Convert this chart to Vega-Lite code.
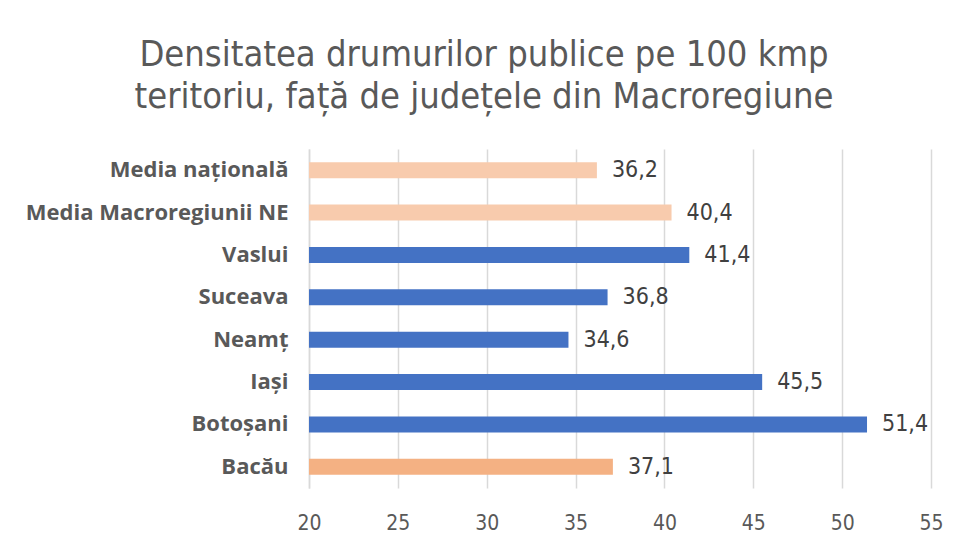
{
  "$schema": "https://vega.github.io/schema/vega-lite/v6.json",
  "width": 622,
  "height": 339,
  "autosize": "none",
  "padding": {"left": 309, "top": 149, "right": 26, "bottom": 52},
  "background": "white",
  "config": {
    "view": {"stroke": null},
    "locale": {"number": {"decimal": ",", "thousands": ".", "grouping": [3], "currency": ["", " lei"]}}
  },
  "title": {
    "text": ["Densitatea drumurilor publice pe 100 kmp", "teritoriu, față de județele din Macroregiune"],
    "font": "DejaVu Sans Condensed",
    "fontSize": 36,
    "fontWeight": "normal",
    "color": "#595959",
    "anchor": "middle",
    "frame": "group",
    "dx": -136,
    "lineHeight": 42,
    "offset": 33
  },
  "data": {
    "values": [
      {"name": "Media națională", "value": 36.2, "group": "media"},
      {"name": "Media Macroregiunii NE", "value": 40.4, "group": "media"},
      {"name": "Vaslui", "value": 41.4, "group": "judet"},
      {"name": "Suceava", "value": 36.8, "group": "judet"},
      {"name": "Neamț", "value": 34.6, "group": "judet"},
      {"name": "Iași", "value": 45.5, "group": "judet"},
      {"name": "Botoșani", "value": 51.4, "group": "judet"},
      {"name": "Bacău", "value": 37.1, "group": "bacau"}
    ]
  },
  "encoding": {
    "y": {
      "field": "name",
      "type": "nominal",
      "sort": null,
      "scale": {"paddingInner": 0.62, "paddingOuter": 0.31},
      "axis": {
        "title": null,
        "ticks": false,
        "domainColor": "#d9d9d9",
        "domainWidth": 1.5,
        "labelFont": "Open Sans",
        "labelFontWeight": "bold",
        "labelFontSize": 22,
        "labelColor": "#595959",
        "labelPadding": 21,
        "labelLimit": 0
      }
    },
    "x": {
      "field": "value",
      "type": "quantitative",
      "scale": {"domain": [20, 55], "nice": false, "zero": false},
      "axis": {
        "title": null,
        "values": [20, 25, 30, 35, 40, 45, 50, 55],
        "domain": false,
        "ticks": false,
        "grid": true,
        "gridColor": "#d9d9d9",
        "gridWidth": 1.5,
        "labelFont": "DejaVu Sans Condensed",
        "labelFontSize": 21,
        "labelColor": "#595959",
        "labelPadding": 24,
        "labelFlush": false
      }
    }
  },
  "layer": [
    {
      "mark": {"type": "bar"},
      "encoding": {
        "x2": {"datum": 20},
        "color": {
          "field": "group",
          "type": "nominal",
          "scale": {"domain": ["media", "judet", "bacau"], "range": ["#F8CBAD", "#4472C4", "#F4B183"]},
          "legend": null
        }
      }
    },
    {
      "mark": {"type": "text", "align": "left", "dx": 15, "font": "DejaVu Sans Condensed", "fontSize": 23, "color": "#404040"},
      "encoding": {
        "text": {"field": "value", "type": "quantitative", "format": ".1f"}
      }
    }
  ]
}
